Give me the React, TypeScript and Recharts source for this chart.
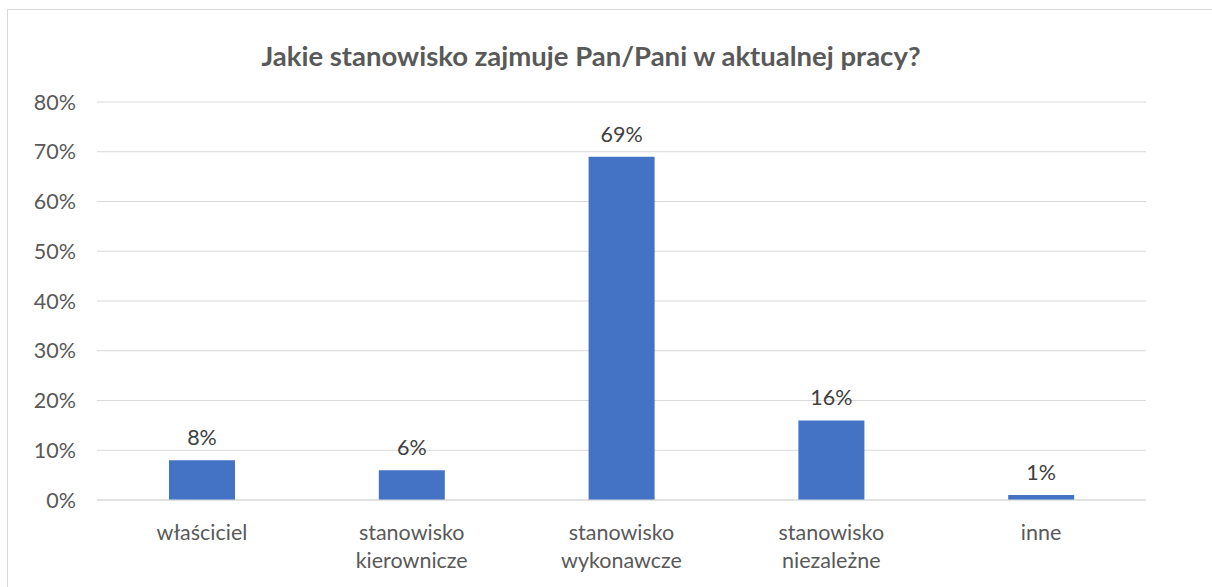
import React from 'react';
import { BarChart, Bar, XAxis, YAxis, CartesianGrid, LabelList } from 'recharts';

const categories = ['właściciel', 'stanowisko kierownicze', 'stanowisko wykonawcze', 'stanowisko niezależne', 'inne'];
const shares = [8, 6, 69, 16, 1];
const yTicks = [0, 10, 20, 30, 40, 50, 60, 70, 80];

const data = categories.map((name, i) => ({ name, value: shares[i] }));

const FONT = 'Lato, "Open Sans", sans-serif';

// splits "stanowisko kierownicze" into two lines like Excel does
const CategoryTick = (props: any) => {
  const { x, y, payload } = props;
  const words = String(payload.value).split(' ');
  return (
    <g transform={`translate(${x},${y})`}>
      <text textAnchor="middle" fill="#595959" fontSize={21.5} fontFamily={FONT}>
        {words.map((w, i) => (
          <tspan key={i} x={0} y={32 + i * 28}>{w}</tspan>
        ))}
      </text>
    </g>
  );
};

const App: React.FC = () => {
  return (
    <div style={{ position: 'fixed', left: 0, top: 0, right: 0, bottom: 0, overflow: 'hidden', background: '#fff' }}>
      <div style={{ position: 'absolute', left: 7, top: 9, width: 1210, height: 590, border: '1px solid #d9d9d9' }}>
        <div style={{
          position: 'absolute', left: 0, top: 29, width: 1166, textAlign: 'center',
          fontFamily: FONT, fontWeight: 'bold', fontSize: 27.5, color: '#595959'
        }}>
          Jakie stanowisko zajmuje Pan/Pani w aktualnej pracy?
        </div>
        <BarChart
          width={1203}
          height={576}
          data={data}
          margin={{ top: 92, right: 65, bottom: 26, left: 0 }}
          style={{ position: 'absolute', left: 0, top: 0 }}
        >
          <CartesianGrid vertical={false} stroke="#d9d9d9" strokeWidth={1} />
          <XAxis
            dataKey="name"
            axisLine={{ stroke: '#d9d9d9' }}
            tickLine={false}
            height={60}
            interval={0}
            tick={<CategoryTick />}
          />
          <YAxis
            domain={[0, 80]}
            ticks={yTicks}
            width={89}
            axisLine={false}
            tickLine={false}
            tickFormatter={(v: number) => `${v}%`}
            tick={{ fill: '#595959', fontSize: 21.5, fontFamily: FONT, dx: -13 }}
          />
          <Bar dataKey="value" fill="#4472C4" barSize={66} isAnimationActive={false}>
            <LabelList
              dataKey="value"
              position="top"
              offset={15}
              formatter={(v: number) => `${v}%`}
              style={{ fill: '#404040', fontSize: 21.5, fontFamily: FONT }}
            />
          </Bar>
        </BarChart>
      </div>
    </div>
  );
};

export default App;
